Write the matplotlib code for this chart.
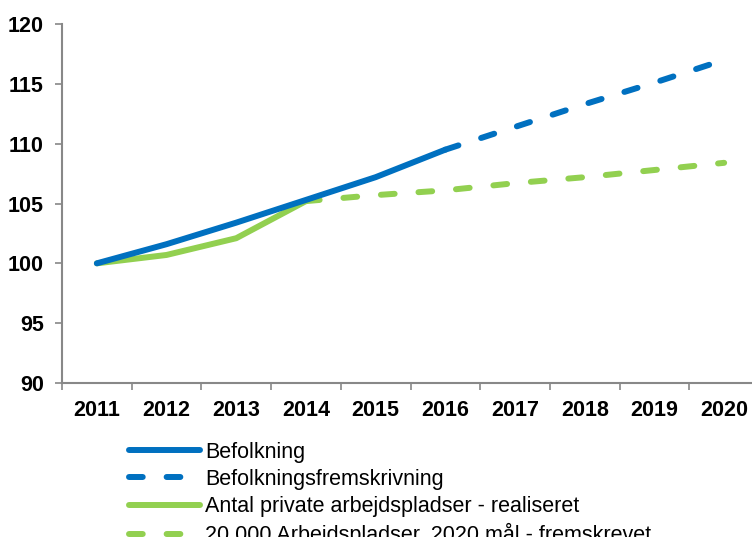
import matplotlib
matplotlib.use("Agg")
import matplotlib.pyplot as plt

plt.rcParams['font.family'] = ['Liberation Sans', 'DejaVu Sans']

years = ["2011", "2012", "2013", "2014", "2015", "2016", "2017", "2018", "2019", "2020"]

# index values (2011 = 100)
befolkning = [100, 101.6, 103.4, 105.3, 107.2, 109.5]
befolkning_frem = [109.5, 111.4, 113.3, 115.1, 117.0]
private_real = [100, 100.7, 102.1, 105.2]
private_frem = [105.2, 105.7, 106.1, 106.7, 107.2, 107.8, 108.4]

labels = ["Befolkning",
          "Befolkningsfremskrivning",
          "Antal private arbejdspladser - realiseret",
          "20.000 Arbejdspladser, 2020 mål - fremskrevet"]

blue = "#0070c0"
green = "#92d050"

fig = plt.figure(figsize=(7.52, 5.37), dpi=100)
ax = fig.add_axes([62 / 752, 1 - 383 / 537, 697 / 752, 359 / 537])

x_all = list(range(len(years)))
lw = 4.3
dash = (2.3, 4.0)

ax.plot(x_all[:len(befolkning)], befolkning, color=blue, lw=lw,
        solid_capstyle="round", label=labels[0], zorder=4)
ax.plot(x_all[len(befolkning) - 1:], befolkning_frem, color=blue, lw=lw,
        dashes=dash, dash_capstyle="round", label=labels[1], zorder=4)
ax.plot(x_all[:len(private_real)], private_real, color=green, lw=lw,
        solid_capstyle="round", label=labels[2], zorder=3)
ax.plot(x_all[len(private_real) - 1:], private_frem, color=green, lw=lw,
        dashes=dash, dash_capstyle="round", label=labels[3], zorder=3)

ax.set_xlim(-0.5, len(years) - 0.5)
ax.set_ylim(90, 120)
ax.set_yticks(range(90, 121, 5))

# tick marks at category boundaries, labels at category centres
ax.set_xticks([i - 0.5 for i in range(len(years) + 1)])
ax.set_xticklabels([])
ax.set_xticks(x_all, minor=True)
ax.set_xticklabels(years, minor=True)
ax.tick_params(axis="x", which="major", length=5, width=1.2, color="#888888")
ax.tick_params(axis="x", which="minor", length=0, pad=12, labelsize=15.5)
ax.tick_params(axis="y", length=5, width=1.2, color="#888888", pad=8, labelsize=15.5)
for lab in ax.get_xticklabels(minor=True) + ax.get_yticklabels():
    lab.set_fontweight("bold")

for side in ["top", "right"]:
    ax.spines[side].set_visible(False)
for side in ["left", "bottom"]:
    ax.spines[side].set_color("#888888")
    ax.spines[side].set_linewidth(1.5)

fig.legend(loc="upper left", bbox_to_anchor=(129 / 752, 1 - 442 / 537),
           frameon=False, fontsize=15.5, handlelength=3.3, handletextpad=0.22,
           labelspacing=0.28, borderpad=0, borderaxespad=0)

fig.savefig("out.png", dpi=100)
